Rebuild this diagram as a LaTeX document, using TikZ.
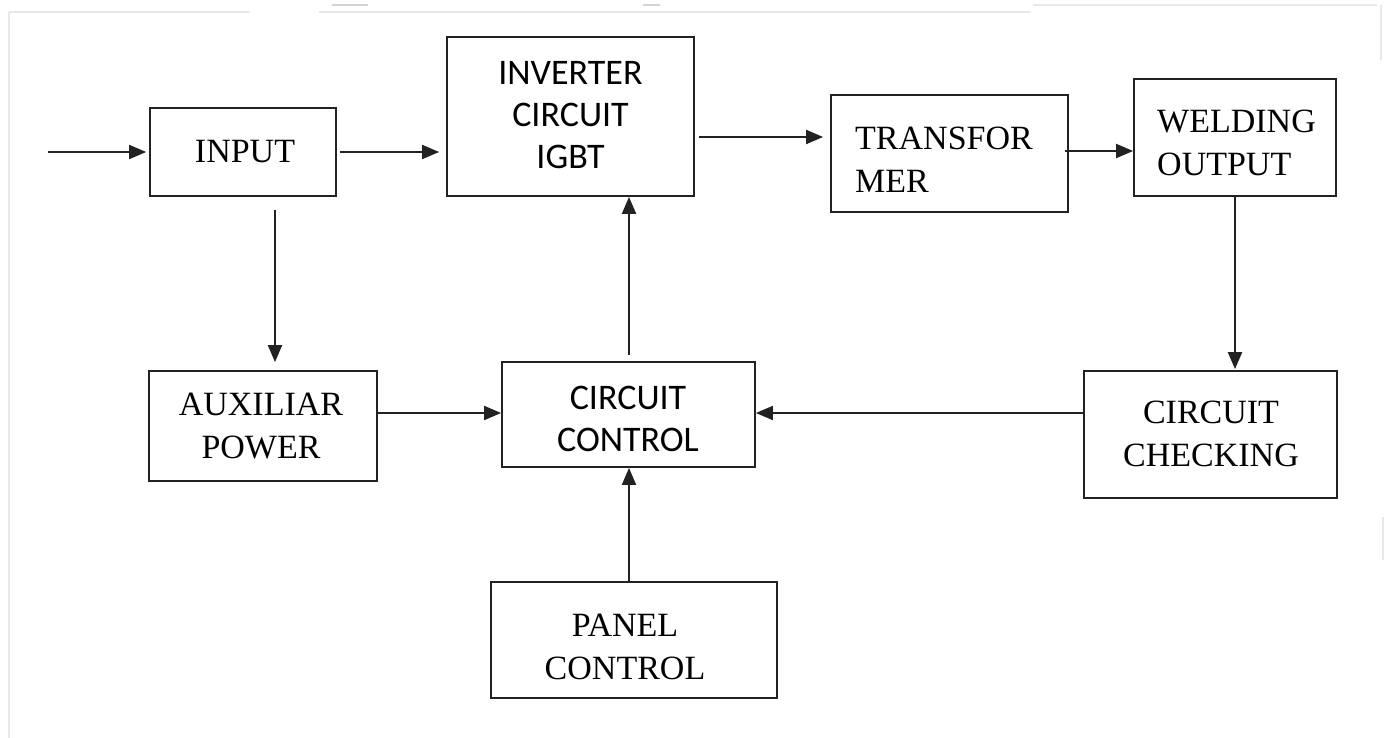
\documentclass[tikz,border=0pt]{standalone}
\usepackage{fontspec}
\setmainfont{Liberation Serif}
\newfontfamily\sansf{Carlito}
\usetikzlibrary{arrows.meta}
\definecolor{ink}{HTML}{222222}
\definecolor{faint}{HTML}{E8E8E8}
\tikzset{
  box/.style={draw=ink, line width=1.8pt, rectangle, inner sep=0pt, fill=none},
  serif/.style={inner sep=0pt, text=black, font=\fontsize{34}{43}\selectfont, align=center},
  sans/.style={inner sep=0pt, text=black, font=\sansf\fontsize{36}{42}\selectfont, align=center},
  arr/.style={draw=ink, line width=2pt, -{Triangle[length=17pt, width=14pt]}},
  frame/.style={draw=faint, line width=1.5pt}
}
\begin{document}
\begin{tikzpicture}[x=1pt, y=-1pt]
\useasboundingbox (0,0) rectangle (1389,738);
\fill[white] (0,0) rectangle (1389,738);
% faint scan edges
\draw[frame] (9,12) -- (9,738);
\draw[frame] (9,12) -- (250,12);
\draw[frame] (319,12) -- (1030,12);
\draw[frame] (1033,5) -- (1377,5);
\draw[frame] (1381,5) -- (1381,60);
\draw[frame] (1383,517) -- (1383,560);
\draw[draw=faint!80!gray, line width=1.5pt] (332,5) -- (368,5);
\draw[draw=faint!80!gray, line width=1.5pt] (643,5) -- (660,5);

% boxes
\node[box, minimum width=186pt, minimum height=88pt] (input) at (243,152) {};
\node[box, minimum width=247pt, minimum height=159pt] (inverter) at (570.5,116.5) {};
\node[box, minimum width=237pt, minimum height=117pt] (transformer) at (949.5,153.5) {};
\node[box, minimum width=202pt, minimum height=117pt] (welding) at (1235,137.5) {};
\node[box, minimum width=228pt, minimum height=110pt] (aux) at (263,426) {};
\node[box, minimum width=253pt, minimum height=105pt] (control) at (628.5,414.5) {};
\node[box, minimum width=253pt, minimum height=127pt] (checking) at (1210.5,434.5) {};
\node[box, minimum width=286pt, minimum height=116pt] (panel) at (634,640) {};

% labels
\node[serif] (input-t) at (245,152) {INPUT};
\node[sans] (inverter-t) at (570.5,115) {INVERTER\\CIRCUIT\\IGBT};
\node[serif, anchor=west, align=left] (transformer-t) at (855,160) {TRANSFOR\\MER};
\node[serif, anchor=west, align=left] (welding-t) at (1157,142.5) {WELDING\\OUTPUT};
\node[serif] (aux-t) at (261,426.5) {AUXILIAR\\POWER};
\node[sans] (control-t) at (628,419) {CIRCUIT\\CONTROL};
\node[serif] (checking-t) at (1211,434) {CIRCUIT\\CHECKING};
\node[serif] (panel-t) at (625,646.5) {PANEL\\CONTROL};

% connectors
\coordinate (src) at (48,152);
\draw[arr, shorten >=3pt] (src) -- (input.west);
\draw[arr, shorten <=3pt, shorten >=7pt] (input.east) -- (inverter.west |- input.east);
\draw[arr, shorten <=4pt, shorten >=7pt] (inverter.east |- 0,137) -- (transformer.west |- 0,137);
\draw[arr, shorten <=-4pt] (transformer.east |- 0,151) -- (welding.west |- 0,151);
\draw[arr, shorten >=1pt] (welding.south) -- (checking.north -| welding.south);
\draw[arr] (checking.west |- 0,413) -- (control.east |- 0,413);
\draw[arr] (aux.east |- 0,413) -- (control.west |- 0,413);
\draw[arr, shorten <=6pt] (control.north -| 629,0) -- (inverter.south -| 629,0);
\draw[arr] (panel.north -| 629,0) -- (control.south -| 629,0);
\draw[arr, shorten <=13pt, shorten >=8pt] (275,0 |- input.south) -- (275,0 |- aux.north);
\end{tikzpicture}
\end{document}
